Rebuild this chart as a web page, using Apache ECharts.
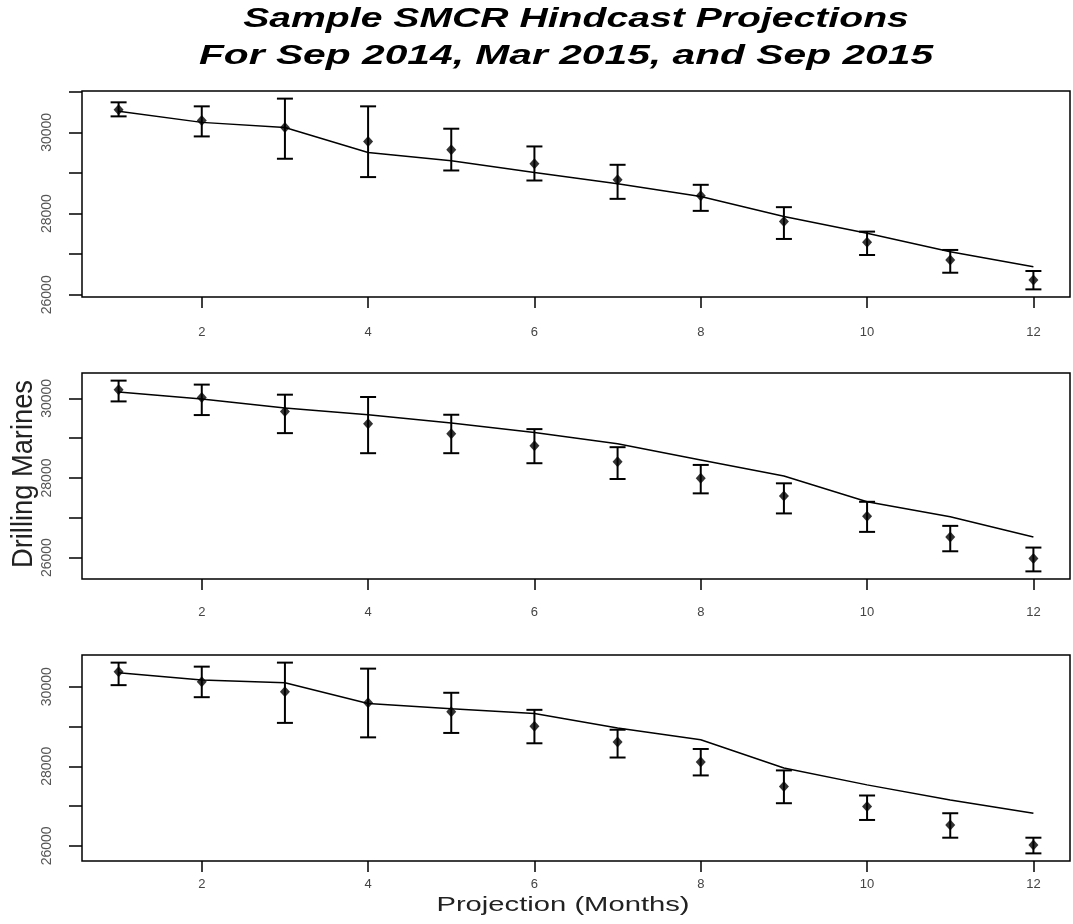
<!DOCTYPE html>
<html>
<head>
<meta charset="utf-8">
<script src="https://cdn.jsdelivr.net/npm/echarts@6/dist/echarts.min.js"></script>
<style>html,body{margin:0;padding:0;background:#fff}#c{width:1073px;height:924px}</style>
</head>
<body>
<div id="c"></div>
<script>
// ---- data ----
const months = [1, 2, 3, 4, 5, 6, 7, 8, 9, 10, 11, 12];
const xTickLabels = [2, 4, 6, 8, 10, 12];
const yTickValues = [26000, 27000, 28000, 29000, 30000, 31000];
const yTickLabels = [26000, 28000, 30000];

// Panel 1
const line1 = [30519, 30247, 30123, 29506, 29301, 29012, 28733, 28420, 27926, 27516, 27062, 26691];
const point1 = [30558, 30296, 30123, 29778, 29573, 29227, 28832, 28437, 27802, 27294, 26857, 26363];
const low1 = [30395, 29901, 29351, 28899, 29062, 28815, 28363, 28067, 27375, 26980, 26543, 26133];
const high1 = [30741, 30642, 30832, 30642, 30091, 29654, 29202, 28709, 28158, 27556, 27104, 26585];

// Panel 2
const line2 = [30161, 29985, 29758, 29589, 29380, 29143, 28858, 28454, 28050, 27402, 27024, 26520];
const point2 = [30219, 30025, 29672, 29362, 29110, 28807, 28411, 27992, 27546, 27041, 26520, 25975];
const low2 = [29924, 29581, 29127, 28623, 28623, 28371, 27975, 27614, 27110, 26646, 26159, 25654];
const high2 = [30446, 30346, 30093, 30035, 29589, 29228, 28774, 28328, 27866, 27402, 26797, 26252];

// Panel 3
const line3 = [30354, 30167, 30101, 29578, 29444, 29326, 28960, 28665, 27955, 27532, 27153, 26819];
const point3 = [30379, 30126, 29874, 29596, 29369, 29005, 28611, 28106, 27492, 26987, 26524, 26019];
const low3 = [30040, 29737, 29091, 28727, 28838, 28578, 28220, 27770, 27071, 26650, 26204, 25810];
const high3 = [30606, 30505, 30606, 30455, 29848, 29419, 28919, 28435, 27896, 27265, 26819, 26204];

const titleLine1 = 'Sample SMCR Hindcast Projections';
const titleLine2 = 'For Sep 2014, Mar 2015, and Sep 2015';
const xTitle = 'Projection (Months)';
const yTitle = 'Drilling Marines';

const panels = [
  {line: line1, point: point1, low: low1, high: high1},
  {line: line2, point: point2, low: low2, high: high2},
  {line: line3, point: point3, low: low3, high: high3}
];

// ---- layout ----
const FONT = '"Liberation Sans", Arial, sans-serif';
const gridTops = [91, 373, 655];
const gridH = 206;
const xLabelMargins = [29, 27, 17];

function ext(arr) {
  const mn = Math.min.apply(null, arr), mx = Math.max.apply(null, arr);
  const r = mx - mn;
  return [mn - 0.04 * r, mx + 0.04 * r];
}
const xr = ext(months);

const grids = [], xAxes = [], yAxes = [], series = [];
panels.forEach(function (p, i) {
  const yr = ext(p.low.concat(p.high, p.line, p.point));
  grids.push({left: 82, right: 3, top: gridTops[i], height: gridH, show: true,
    borderColor: '#000', borderWidth: 1.5, backgroundColor: 'transparent'});
  xAxes.push({type: 'value', gridIndex: i, min: xr[0], max: xr[1],
    axisLine: {show: false}, splitLine: {show: false},
    axisTick: {show: true, length: 11, lineStyle: {color: '#000', width: 1.5}, customValues: xTickLabels},
    axisLabel: {show: true, customValues: xTickLabels, margin: xLabelMargins[i], color: '#444',
      fontSize: 13, fontFamily: FONT, formatter: function (v) { return String(v); }}
  });
  yAxes.push({type: 'value', gridIndex: i, min: yr[0], max: yr[1],
    axisLine: {show: false}, splitLine: {show: false},
    axisTick: {show: true, length: 13, lineStyle: {color: '#000', width: 1.5},
      customValues: yTickValues.filter(function (v) { return v >= yr[0] && v <= yr[1]; })},
    axisLabel: {show: true, rotate: 90, margin: 28, color: '#555', fontSize: 14, fontFamily: FONT,
      customValues: yTickLabels, formatter: function (v) { return String(v); }}
  });
  series.push({type: 'line', xAxisIndex: i, yAxisIndex: i, showSymbol: false, symbol: 'none',
    data: months.map(function (m, k) { return [m, p.line[k]]; }),
    lineStyle: {color: '#000', width: 1.5}, silent: true, animation: false});
  series.push({type: 'custom', xAxisIndex: i, yAxisIndex: i, animation: false, silent: true,
    data: months.map(function (m, k) { return [m, p.low[k], p.high[k]]; }),
    renderItem: function (params, api) {
      const x = api.value(0);
      const a = api.coord([x, api.value(1)]);
      const b = api.coord([x, api.value(2)]);
      const hw = 8;
      const st = {stroke: '#000', lineWidth: 2};
      return {type: 'group', children: [
        {type: 'line', shape: {x1: a[0], y1: a[1], x2: b[0], y2: b[1]}, style: st},
        {type: 'line', shape: {x1: a[0] - hw, y1: a[1], x2: a[0] + hw, y2: a[1]}, style: st},
        {type: 'line', shape: {x1: b[0] - hw, y1: b[1], x2: b[0] + hw, y2: b[1]}, style: st}
      ]};
    }
  });
  series.push({type: 'scatter', xAxisIndex: i, yAxisIndex: i, symbol: 'diamond', symbolSize: [10, 11],
    itemStyle: {color: '#000'}, silent: true, animation: false,
    data: months.map(function (m, k) { return [m, p.point[k]]; })});
});

const chart = echarts.init(document.getElementById('c'), null, {renderer: 'canvas'});
chart.setOption({
  animation: false,
  backgroundColor: '#fff',
  grid: grids, xAxis: xAxes, yAxis: yAxes, series: series,
  graphic: [
    {type: 'text', x: 576, y: 20, scaleX: 1.45, scaleY: 1,
      style: {text: titleLine1, font: 'italic bold 27px ' + FONT, fill: '#000', textAlign: 'center', textVerticalAlign: 'middle'}},
    {type: 'text', x: 566, y: 57, scaleX: 1.51, scaleY: 1,
      style: {text: titleLine2, font: 'italic bold 27px ' + FONT, fill: '#000', textAlign: 'center', textVerticalAlign: 'middle'}},
    {type: 'text', x: 563, y: 905, scaleX: 1.46, scaleY: 1,
      style: {text: xTitle, font: '20px ' + FONT, fill: '#222', textAlign: 'center', textVerticalAlign: 'middle'}},
    {type: 'text', x: 24, y: 474, rotation: Math.PI / 2, scaleX: 1.24, scaleY: 1.38,
      style: {text: yTitle, font: '22px ' + FONT, fill: '#222', textAlign: 'center', textVerticalAlign: 'middle'}}
  ]
});
</script>
</body>
</html>
